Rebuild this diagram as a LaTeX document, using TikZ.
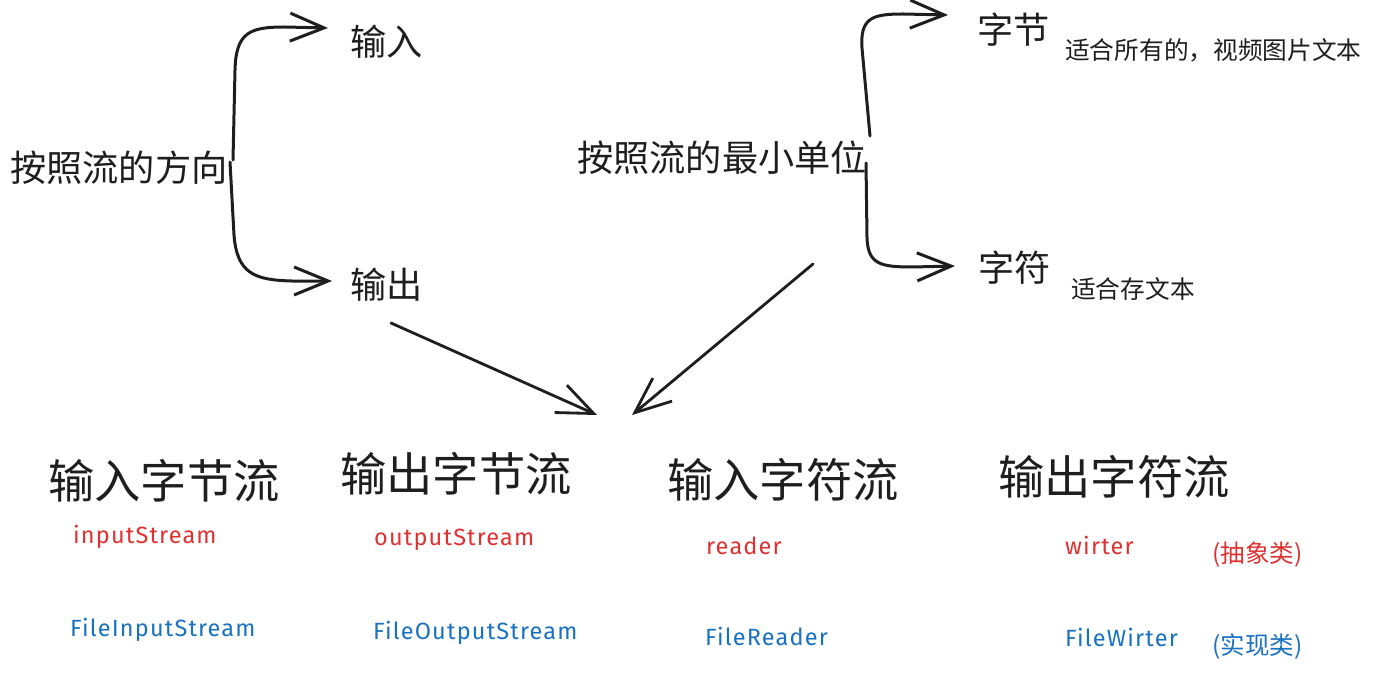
\documentclass[tikz,border=0pt]{standalone}
\usepackage{fontspec}
\setmainfont{Fira Sans}
\newfontfamily\cjk{Noto Sans CJK SC}
\newfontfamily\codefont[LetterSpace=5]{Fira Sans}
\usetikzlibrary{arrows.meta}
\definecolor{ink}{HTML}{1E1E1E}
\definecolor{exred}{HTML}{E03131}
\definecolor{exblue}{HTML}{1971C2}
\tikzset{
  big/.style={font=\cjk\fontsize{36.2}{40}\selectfont, text=ink, anchor=west, inner sep=0pt},
  small/.style={font=\cjk\fontsize{24.7}{28}\selectfont, text=ink, anchor=west, inner sep=0pt},
  title/.style={font=\cjk\fontsize{46.3}{50}\selectfont, text=ink, anchor=west, inner sep=0pt},
  code/.style={font=\codefont\fontsize{23.5}{26}\selectfont, anchor=west, inner sep=0pt},
  abs/.style={code, text=exred},
  impl/.style={code, text=exblue},
  note/.style={font=\cjk\fontsize{24.5}{28}\selectfont, anchor=west, inner sep=0pt},
  brace/.style={draw=ink, line width=3pt, line cap=round, line join=round, -{Straight Barb[length=34pt,width=28pt]}},
  link/.style={draw=ink, line width=2.8pt, line cap=round, -{Straight Barb[length=36pt,width=30pt]}}
}
\begin{document}
\begin{tikzpicture}[x=1pt,y=-1pt]
\useasboundingbox (0,0) rectangle (1388,676);
% top-left group
\node[big] (dir) at (10,168) {按照流的方向};
\node[big] (in) at (350,42) {输入};
\node[big] (out) at (350,285) {输出};
% top-right group
\node[big] (unit) at (577,158) {按照流的最小单位};
\node[big] (byte) at (977,30) {字节};
\node[small] (bytenote) at (1065,50) {适合所有的，视频图片文本};
\node[big] (char) at (978,268) {字符};
\node[small] (charnote) at (1071,289) {适合存文本};
% titles
\node[title] (ibs) at (48,481) {输入字节流};
\node[title] (obs) at (340,474) {输出字节流};
\node[title] (ics) at (667,480) {输入字符流};
\node[title] (ocs) at (998,477) {输出字符流};
% abstract classes
\node[abs] (is) at (73,537) {inputStream};
\node[abs] (os) at (374,540) {outputStream};
\node[abs] (rd) at (706,546) {reader};
\node[abs] (wr) at (1065,545) {wirter};
\node[note, text=exred] (absnote) at (1212,555) {(抽象类)};
% implementations
\node[impl] (fis) at (70,630) {FileInputStream};
\node[impl] (fos) at (373,633) {FileOutputStream};
\node[impl] (frd) at (705,636) {FileReader};
\node[impl] (fwr) at (1065,637) {FileWirter};
\node[note, text=exblue] (implnote) at (1212,647) {(实现类)};
% brace coordinates
\coordinate (b1a) at (233,160);
\coordinate (b1b) at (230,162);
\coordinate (b1t) at (328,28);
\coordinate (b1u) at (332,281);
\coordinate (b2a) at (870,136);
\coordinate (b2b) at (866,163);
\coordinate (b2t) at (948,15);
\coordinate (b2u) at (955,266);
\coordinate (m1) at (391,323);
\coordinate (m2) at (813,264);
\coordinate (tipA) at (597,415);
\coordinate (tipB) at (632,415);
% braces
\draw[brace] (b1a) -- (235,70) .. controls (236,32) and (250,27) .. (285,27) -- (b1t);
\draw[brace] (b1b) -- (234,235) .. controls (237,274) and (255,280) .. (292,281) -- (b1u);
\draw[brace] (b2a) -- (862,48) .. controls (860,18) and (872,14) .. (903,14) -- (b2t);
\draw[brace] (b2b) -- (867,238) .. controls (868,264) and (880,267) .. (912,267) -- (b2u);
% converging arrows
\draw[link] (m1) -- (tipA);
\draw[link] (m2) -- (tipB);
\end{tikzpicture}
\end{document}
